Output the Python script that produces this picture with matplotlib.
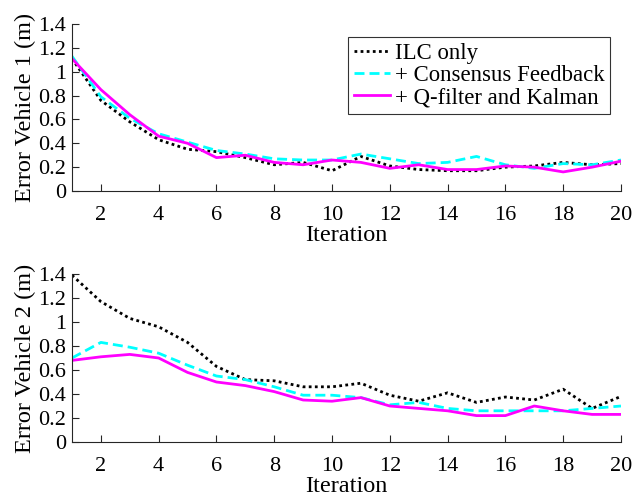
import matplotlib
matplotlib.use("Agg")
import matplotlib.pyplot as plt
import numpy as np

iterations = list(range(1, 21))

v1_ilc = [1.11, 0.76, 0.58, 0.43, 0.35, 0.33, 0.28, 0.22, 0.24, 0.17,
          0.29, 0.21, 0.18, 0.17, 0.17, 0.20, 0.21, 0.24, 0.22, 0.23]
v1_cons = [1.13, 0.79, 0.61, 0.48, 0.41, 0.34, 0.31, 0.27, 0.26, 0.26,
           0.31, 0.27, 0.23, 0.24, 0.29, 0.22, 0.19, 0.23, 0.22, 0.26]
v1_qk = [1.11, 0.85, 0.64, 0.46, 0.40, 0.28, 0.30, 0.24, 0.22, 0.26,
         0.24, 0.19, 0.22, 0.18, 0.18, 0.21, 0.20, 0.16, 0.20, 0.25]

v2_ilc = [1.39, 1.17, 1.03, 0.96, 0.83, 0.63, 0.52, 0.51, 0.46, 0.46,
          0.49, 0.39, 0.34, 0.41, 0.33, 0.375, 0.35, 0.44, 0.28, 0.38]
v2_cons = [0.70, 0.83, 0.79, 0.74, 0.64, 0.55, 0.52, 0.46, 0.39, 0.39,
           0.37, 0.31, 0.33, 0.28, 0.26, 0.26, 0.26, 0.26, 0.28, 0.30]
v2_qk = [0.68, 0.71, 0.73, 0.70, 0.58, 0.50, 0.47, 0.42, 0.35, 0.34,
         0.37, 0.30, 0.28, 0.26, 0.22, 0.22, 0.30, 0.26, 0.23, 0.23]

labels = ["ILC only", "+ Consensus Feedback", "+ Q-filter and Kalman"]
xticks = [2, 4, 6, 8, 10, 12, 14, 16, 18, 20]
yticks = [0, 0.2, 0.4, 0.6, 0.8, 1.0, 1.2, 1.4]
ytick_labels = ["0", "0.2", "0.4", "0.6", "0.8", "1", "1.2", "1.4"]

plt.rcParams['font.family'] = ['Liberation Serif', 'DejaVu Serif']
plt.rcParams['mathtext.fontset'] = 'stix'

fig = plt.figure(figsize=(6.33, 4.99), dpi=100)
ax1 = fig.add_axes([0.1137, 0.6172, 0.8673, 0.3347])
ax2 = fig.add_axes([0.1137, 0.1142, 0.8673, 0.3367])

spine_c = '#262626'
for ax, data, ylab in [(ax1, (v1_ilc, v1_cons, v1_qk), "Error Vehicle 1 (m)"),
                       (ax2, (v2_ilc, v2_cons, v2_qk), "Error Vehicle 2 (m)")]:
    ax.plot(iterations, data[0], color='black', linestyle=(0, (1, 1.2)), lw=2, label=labels[0])
    ax.plot(iterations, data[1], color='#00FFFF', linestyle=(0, (3.6, 1.8)), lw=2, label=labels[1])
    ax.plot(iterations, data[2], color='#FF00FF', linestyle='-', lw=2, label=labels[2])
    ax.set_xlim(1, 20)
    ax.set_ylim(0, 1.4)
    ax.set_xticks(xticks)
    ax.set_yticks(yticks)
    ax.set_yticklabels(ytick_labels)
    ax.spines['top'].set_visible(False)
    ax.spines['right'].set_visible(False)
    for s in ['left', 'bottom']:
        ax.spines[s].set_color(spine_c)
        ax.spines[s].set_linewidth(0.8)
    ax.tick_params(direction='in', length=5, width=0.8, color=spine_c,
                   labelsize=16, labelcolor='black')
    ax.tick_params(axis='x', pad=11)
    ax.tick_params(axis='y', pad=4)
    ax.set_xlabel("Iteration", fontsize=17.5, labelpad=0)
    ax.set_ylabel(ylab, fontsize=17.5, labelpad=2)
    ax.patch.set_visible(False)

leg = ax1.legend(loc='upper right', bbox_to_anchor=(0.98, 0.92), fontsize=16.4,
                 frameon=True, fancybox=False, edgecolor='black', handlelength=1.6,
                 handletextpad=0.2, labelspacing=0.05, borderpad=0.25, borderaxespad=0)
leg.get_frame().set_linewidth(0.8)

fig.savefig("out.png", dpi=100)
